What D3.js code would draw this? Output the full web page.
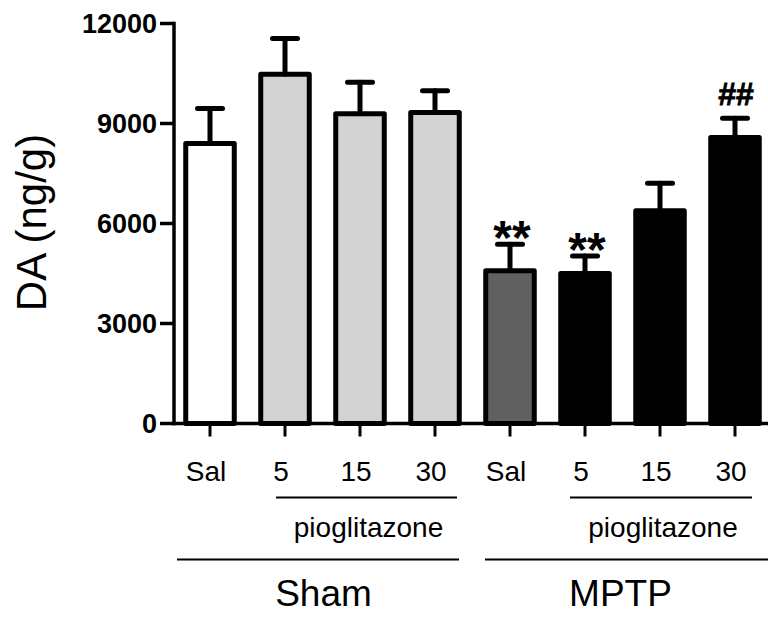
<!DOCTYPE html>
<html>
  <head>
    <title>DA (ng/g)</title>
    <script src="https://d3js.org/d3.v7.min.js"></script>
    <style>
      body { margin: 0; background: #fff; }
      svg text { font-family: "Liberation Sans", Arial, sans-serif; fill: #000; }
      .ytick text { font-size: 27px; font-weight: bold; }
      .dose { font-size: 28px; }
      .drug { font-size: 28px; }
      .group { font-size: 37px; }
      .ytitle { font-size: 42px; }
    </style>
  </head>
  <body>
    <svg width="768" height="617"></svg>
    <script>
      const doseLabels = ["Sal", "5", "15", "30", "Sal", "5", "15", "30"];
      const groupLabels = ["Sham", "Sham", "Sham", "Sham", "MPTP", "MPTP", "MPTP", "MPTP"];
      const treatment = ["saline", "pio", "pio", "pio", "mptp", "mptpPio", "mptpPio", "mptpPio"];
      const means = [8400, 10480, 9290, 9330, 4580, 4500, 6380, 8580];
      const sems = [1050, 1070, 950, 650, 800, 525, 825, 575];
      const marks = ["", "", "", "", "**", "**", "", "##"];
      const yTicks = [0, 3000, 6000, 9000, 12000];

      const svg = d3.select("svg");
      const keys = doseLabels.map((d, i) => i);

      const x = d3.scaleBand()
        .domain(keys)
        .range([172.5, 772.5])
        .paddingInner(0.353)
        .paddingOuter(0.1765);
      const y = d3.scaleLinear()
        .domain([0, 12000])
        .range([423.5, 23.5]);
      const fill = d3.scaleOrdinal()
        .domain(["saline", "pio", "mptp", "mptpPio"])
        .range(["#ffffff", "#d3d3d3", "#606060", "#000000"]);
      const cx = i => x(i) + x.bandwidth() / 2;

      // bars
      svg.append("g").selectAll("rect")
        .data(keys)
        .enter().append("rect")
          .attr("x", i => x(i))
          .attr("y", i => y(means[i]))
          .attr("width", x.bandwidth())
          .attr("height", i => y(0) - y(means[i]))
          .attr("fill", i => fill(treatment[i]))
          .attr("stroke", "#000")
          .attr("stroke-width", 5)
          .attr("stroke-linejoin", "round");

      // error bars (upper only)
      const err = svg.append("g")
        .attr("stroke", "#000")
        .attr("stroke-width", 5)
        .attr("stroke-linecap", "round");
      err.selectAll(".stem")
        .data(keys)
        .enter().append("line")
          .attr("x1", cx).attr("x2", cx)
          .attr("y1", i => y(means[i]))
          .attr("y2", i => y(means[i] + sems[i]));
      err.selectAll(".cap")
        .data(keys)
        .enter().append("line")
          .attr("x1", i => cx(i) - 12.5).attr("x2", i => cx(i) + 12.5)
          .attr("y1", i => y(means[i] + sems[i]))
          .attr("y2", i => y(means[i] + sems[i]));

      // significance marks
      svg.append("g").selectAll("text")
        .data(keys.filter(i => marks[i]))
        .enter().append("text")
          .attr("x", i => cx(i) + (marks[i] === "**" ? 2 : 1))
          .attr("y", i => y(means[i] + sems[i]) + (marks[i] === "**" ? 9.5 : -13))
          .attr("text-anchor", "middle")
          .attr("font-weight", "bold")
          .attr("font-size", i => marks[i] === "**" ? "48px" : "32px")
          .attr("stroke", i => marks[i] === "##" ? "#000" : "none")
          .attr("stroke-width", 0.8)
          .text(i => marks[i]);

      // y axis
      const yAxis = svg.append("g")
        .attr("stroke", "#000");
      yAxis.append("line")
        .attr("x1", 174).attr("x2", 174)
        .attr("y1", y(12000) - 1.75).attr("y2", y(0) + 1.75)
        .attr("stroke-width", 3.5);
      const yt = yAxis.selectAll(".ytick")
        .data(yTicks)
        .enter().append("g")
          .attr("class", "ytick")
          .attr("transform", d => `translate(0,${y(d)})`);
      yt.append("line")
        .attr("x1", 160).attr("x2", 174)
        .attr("stroke-width", 3.5);
      yt.append("text")
        .attr("x", 157)
        .attr("dy", "0.36em")
        .attr("text-anchor", "end")
        .attr("stroke", "none")
        .text(d => d);

      // x axis
      const xAxis = svg.append("g").attr("stroke", "#000");
      xAxis.append("line")
        .attr("x1", 172.5).attr("x2", 768)
        .attr("y1", y(0)).attr("y2", y(0))
        .attr("stroke-width", 3.5);
      xAxis.selectAll(".xtick")
        .data(keys)
        .enter().append("line")
          .attr("x1", cx).attr("x2", cx)
          .attr("y1", y(0)).attr("y2", y(0) + 13)
          .attr("stroke-width", 3);

      svg.append("g").selectAll("text")
        .data(keys)
        .enter().append("text")
          .attr("class", "dose")
          .attr("x", i => cx(i) - 4)
          .attr("y", 480.5)
          .attr("text-anchor", "middle")
          .text(i => doseLabels[i]);

      // brackets
      const drugSpans = [[1, 3, -9, 22], [5, 7, -15, 17]];
      const drugG = svg.append("g");
      drugSpans.forEach(([a, b, l, r]) => {
        const x1 = cx(a) + l, x2 = cx(b) + r;
        drugG.append("line")
          .attr("x1", x1).attr("x2", x2)
          .attr("y1", 497.5).attr("y2", 497.5)
          .attr("stroke", "#000").attr("stroke-width", 2);
        drugG.append("text")
          .attr("class", "drug")
          .attr("x", (x1 + x2) / 2 + 2)
          .attr("y", 537)
          .attr("text-anchor", "middle")
          .text("pioglitazone");
      });

      const groups = Array.from(new Set(groupLabels));
      const groupSpans = [[-33, 24, -2], [-25, 45, -5]];
      groups.forEach((g, k) => {
        const idx = keys.filter(i => groupLabels[i] === g);
        const [l, r, off] = groupSpans[k];
        const x1 = cx(idx[0]) + l, x2 = cx(idx[idx.length - 1]) + r;
        svg.append("line")
          .attr("x1", x1).attr("x2", x2)
          .attr("y1", 559.5).attr("y2", 559.5)
          .attr("stroke", "#000").attr("stroke-width", 2);
        svg.append("text")
          .attr("class", "group")
          .attr("x", (cx(idx[0]) + cx(idx[idx.length - 1])) / 2 + off + 3)
          .attr("y", 605.5)
          .attr("text-anchor", "middle")
          .text(g);
      });

      svg.append("text")
        .attr("class", "ytitle")
        .attr("transform", "translate(45.7,222.5) rotate(-90)")
        .attr("text-anchor", "middle")
        .text("DA (ng/g)");
    </script>
  </body>
</html>
